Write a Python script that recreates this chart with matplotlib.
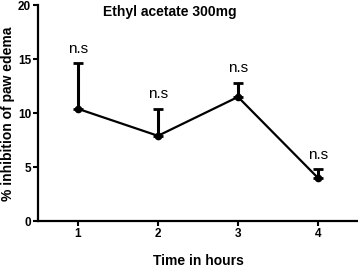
import matplotlib
matplotlib.use("Agg")
import matplotlib.pyplot as plt

hours = [1, 2, 3, 4]
inhibition = [10.4, 7.9, 11.5, 4.0]
sem = [4.2, 2.5, 1.3, 0.8]
labels = ["n.s", "n.s", "n.s", "n.s"]
title = "Ethyl acetate 300mg"

plt.rcParams['font.family'] = ['Liberation Sans', 'DejaVu Sans']
fig = plt.figure(figsize=(3.58, 2.70), dpi=100)
ax = fig.add_axes([0.106, 0.181, 0.894, 0.80])

ax.errorbar(hours, inhibition, yerr=[[0]*4, sem], fmt='-o', color='black',
            lw=1.6, ms=4.5, capsize=3.5, elinewidth=2.2, capthick=2.0, clip_on=False)
for x, y, e, t in zip(hours, inhibition, sem, labels):
    ax.text(x, y + e + 0.7, t, ha='center', va='bottom', fontsize=11)

ax.set_xlim(0.5, 4.5)
ax.set_ylim(0, 20)
ax.set_xticks(hours)
ax.set_yticks([0, 5, 10, 15, 20])
for s in ['top', 'right']:
    ax.spines[s].set_visible(False)
for s in ['left', 'bottom']:
    ax.spines[s].set_linewidth(1.6)
ax.tick_params(width=1.5, length=3.5, labelsize=8.5, pad=1.5)
for lab in ax.get_xticklabels() + ax.get_yticklabels():
    lab.set_fontweight('bold')
ax.text(2.15, 19.4, title, ha='center', va='center', fontsize=10, fontweight='bold')
fig.text(198/358, 1 - 261/270, "Time in hours", ha='center', va='center',
         fontsize=10, fontweight='bold')
fig.text(8/358, 1 - 114/270, "% inhibition of paw edema", ha='center', va='center',
         rotation=90, fontsize=10, fontweight='bold')

fig.savefig("out.png", dpi=100)
